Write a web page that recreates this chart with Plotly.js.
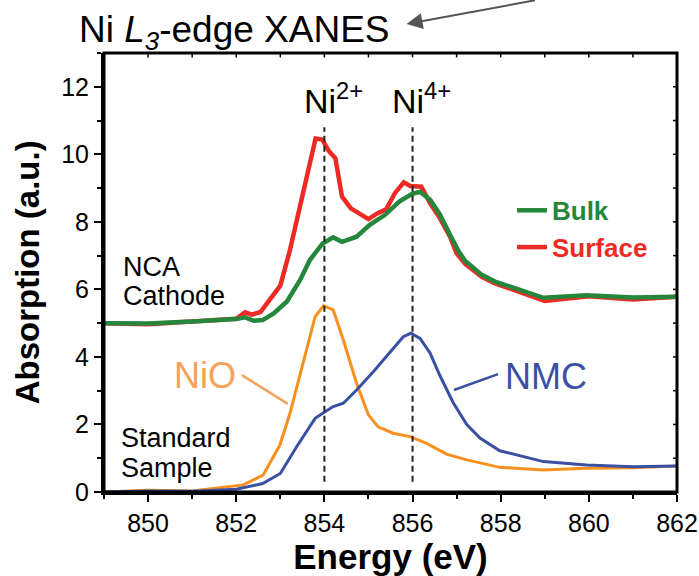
<!DOCTYPE html>
<html>
<head>
<meta charset="utf-8">
<script src="https://cdn.plot.ly/plotly-3.0.1.min.js"></script>
<style>html,body{margin:0;padding:0;background:#fff;}#chart{width:699px;height:576px;}</style>
</head>
<body>
<div id="chart"></div>
<script>
// Energy (eV) and absorption (a.u.)
const surfaceE = [849, 850, 851, 852, 852.2, 852.35, 852.55, 852.8, 853.0, 853.22, 853.45, 853.63, 853.8, 853.95, 854.1, 854.25, 854.4, 854.6, 855.0, 855.2, 855.4, 855.6, 855.8, 855.95, 856.2, 856.4, 856.6, 856.85, 857.0, 857.2, 857.57, 857.87, 859.0, 860.0, 861.0, 862.0];
const surfaceA = [5.0, 4.97, 5.05, 5.13, 5.32, 5.25, 5.33, 5.78, 6.11, 7.17, 8.45, 9.54, 10.47, 10.44, 10.1, 9.88, 8.75, 8.4, 8.08, 8.25, 8.37, 8.85, 9.17, 9.06, 9.04, 8.55, 8.15, 7.56, 7.07, 6.75, 6.37, 6.18, 5.66, 5.8, 5.7, 5.78];

const bulkE = [849, 850, 851, 852, 852.2, 852.4, 852.6, 852.85, 853.15, 853.45, 853.67, 853.96, 854.2, 854.4, 854.73, 855.03, 855.37, 855.7, 855.98, 856.17, 856.4, 856.62, 856.85, 857.05, 857.19, 857.57, 857.87, 858.97, 859.95, 861.0, 862.0];
const bulkA = [5.0, 4.99, 5.05, 5.12, 5.17, 5.07, 5.09, 5.29, 5.64, 6.28, 6.87, 7.36, 7.54, 7.41, 7.56, 7.91, 8.2, 8.6, 8.82, 8.89, 8.65, 8.22, 7.62, 7.12, 6.85, 6.43, 6.23, 5.75, 5.83, 5.76, 5.78];

const nioE = [849, 850, 851, 851.6, 852.16, 852.61, 852.99, 853.22, 853.45, 853.64, 853.79, 853.98, 854.2, 854.43, 854.73, 855.0, 855.22, 855.56, 855.94, 856.32, 856.77, 857.23, 857.98, 858.97, 859.95, 861.0, 862.0];
const nioA = [0.0, 0.05, 0.03, 0.12, 0.21, 0.5, 1.39, 2.33, 3.51, 4.5, 5.19, 5.51, 5.39, 4.5, 3.22, 2.28, 1.93, 1.74, 1.64, 1.44, 1.12, 0.95, 0.73, 0.65, 0.7, 0.72, 0.77];

const nmcE = [849, 850, 851, 852, 852.6, 853.0, 853.37, 853.79, 853.98, 854.2, 854.43, 854.73, 855.11, 855.49, 855.79, 855.96, 856.17, 856.4, 856.62, 856.92, 857.23, 857.53, 857.98, 858.97, 859.95, 861.0, 862.0];
const nmcA = [0.0, 0.03, 0.02, 0.08, 0.25, 0.55, 1.34, 2.18, 2.35, 2.53, 2.63, 3.02, 3.56, 4.15, 4.6, 4.7, 4.55, 4.11, 3.45, 2.65, 2.0, 1.6, 1.22, 0.9, 0.8, 0.75, 0.77];

// Reference energies of the oxidation states
const markerE = [854, 856];
const markerLabels = ['Ni<sup>2+</sup>', 'Ni<sup>4+</sup>'];

const X_RANGE = [849, 862];
const Y_RANGE = [0, 13];

const FONT = 'Liberation Sans, Arial, Helvetica, sans-serif';
const GREEN = '#25873b', RED = '#ee2a25', ORANGE = '#f7901e', BLUE = '#3a51a3', LORANGE = '#f4a25a';

const traces = [
  {x: surfaceE, y: surfaceA, mode: 'lines', name: '<span style="color:' + RED + '">Surface</span>',
   line: {color: RED, width: 4.5}},
  {x: bulkE, y: bulkA, mode: 'lines', name: '<span style="color:' + GREEN + '">Bulk</span>',
   line: {color: GREEN, width: 4.5}},
  {x: nioE, y: nioA, mode: 'lines', name: 'NiO', showlegend: false,
   line: {color: ORANGE, width: 3}},
  {x: nmcE, y: nmcA, mode: 'lines', name: 'NMC', showlegend: false,
   line: {color: BLUE, width: 3}}
];

const shapes = markerE.map(e => ({
  type: 'line', xref: 'x', yref: 'y', x0: e, x1: e, y0: 0.3, y1: 10.8,
  line: {color: '#222', width: 2, dash: '6px,4px'}, layer: 'above'
}));
shapes.push({type: 'line', xref: 'x', yref: 'y', x0: 852.13, y0: 3.46, x1: 853.17, y1: 2.61,
  line: {color: LORANGE, width: 2.5}});
shapes.push({type: 'line', xref: 'x', yref: 'y', x0: 856.94, y0: 3.02, x1: 857.94, y1: 3.49,
  line: {color: BLUE, width: 2.5}});
// plot frame
shapes.push({type: 'rect', xref: 'paper', yref: 'paper', x0: 0, x1: 1, y0: 0, y1: 1,
  line: {color: '#000', width: 3}, layer: 'above'});
// small inward ticks on the top and right frame edges
for (let e = X_RANGE[0] + 1; e < X_RANGE[1]; e++) {
  shapes.push({type: 'line', xref: 'x', yref: 'paper', x0: e, x1: e, y0: 1, y1: 0.99,
    line: {color: '#000', width: 1.5}});
}
for (let a = Y_RANGE[0] + 1; a < Y_RANGE[1]; a++) {
  shapes.push({type: 'line', xref: 'paper', yref: 'y', x0: 1, x1: 0.993, y0: a, y1: a,
    line: {color: '#000', width: 1.5}});
}

const txt = (x, y, text, size, color, anchor) => ({
  x: x, y: y, xref: 'x', yref: 'y', text: text, showarrow: false,
  xanchor: anchor || 'center', yanchor: 'middle', font: {family: FONT, size: size, color: color}
});

const annotations = markerE.map((e, i) => Object.assign(txt(e, 11.65, markerLabels[i], 34, '#000'), {xshift: 9}));
annotations.push(
  txt(849.38, 6.65, 'NCA', 27, '#000', 'left'),
  txt(849.38, 5.8, 'Cathode', 27, '#000', 'left'),
  txt(849.33, 1.6, 'Standard', 27, '#000', 'left'),
  txt(849.33, 0.72, 'Sample', 27, '#000', 'left'),
  txt(851.29, 3.46, 'NiO', 36, LORANGE),
  txt(859.03, 3.43, 'NMC', 36, BLUE),
  {x: -0.133, y: 0.5, xref: 'paper', yref: 'paper', text: '<b>Absorption (a.u.)</b>', textangle: -90,
   showarrow: false, xanchor: 'center', yanchor: 'middle', font: {family: FONT, size: 33, color: '#000'}},
  {x: 0.528, y: 1.066, xref: 'paper', yref: 'paper', text: '', showarrow: true,
   ax: 130, ay: -27, arrowhead: 2, arrowsize: 1.6, arrowwidth: 2, arrowcolor: '#555'}
);

const layout = {
  width: 699, height: 576,
  margin: {l: 104, r: 22, t: 53, b: 84},
  paper_bgcolor: '#fff', plot_bgcolor: '#fff',
  font: {family: FONT, color: '#000'},
  title: {text: 'Ni <i>L</i><sub><i>3</i></sub>-edge XANES', xref: 'container', yref: 'container',
    x: 0.113, xanchor: 'left', y: 0.95, yanchor: 'middle', font: {family: FONT, size: 37, color: '#000'}},
  showlegend: true,
  legend: {x: 0.712, y: 0.695, xanchor: 'left', yanchor: 'top', traceorder: 'reversed',
    bgcolor: 'rgba(0,0,0,0)', font: {family: FONT, size: 26, weight: 'bold'}, tracegroupgap: 0},
  xaxis: {range: X_RANGE, tick0: 850, dtick: 2, ticks: 'outside', ticklen: 7, tickwidth: 2, tickcolor: '#000',
    minor: {tick0: 849, dtick: 1, ticks: 'outside', ticklen: 4, tickwidth: 2, tickcolor: '#000'},
    showline: true, linewidth: 3, linecolor: '#000', showgrid: false, zeroline: false,
    tickfont: {family: FONT, size: 25, color: '#000'},
    title: {text: '<b>Energy (eV)</b>', font: {family: FONT, size: 35, color: '#000'}, standoff: 3}},
  yaxis: {range: Y_RANGE, tick0: 0, dtick: 2, ticks: 'outside', ticklen: 7, tickwidth: 2, tickcolor: '#000',
    minor: {tick0: 0, dtick: 1, ticks: 'outside', ticklen: 4, tickwidth: 2, tickcolor: '#000'},
    showline: true, linewidth: 3, linecolor: '#000', showgrid: false, zeroline: false,
    tickfont: {family: FONT, size: 25, color: '#000'}},
  shapes: shapes,
  annotations: annotations
};

Plotly.newPlot('chart', traces, layout, {displayModeBar: false, staticPlot: true});
</script>
</body>
</html>
